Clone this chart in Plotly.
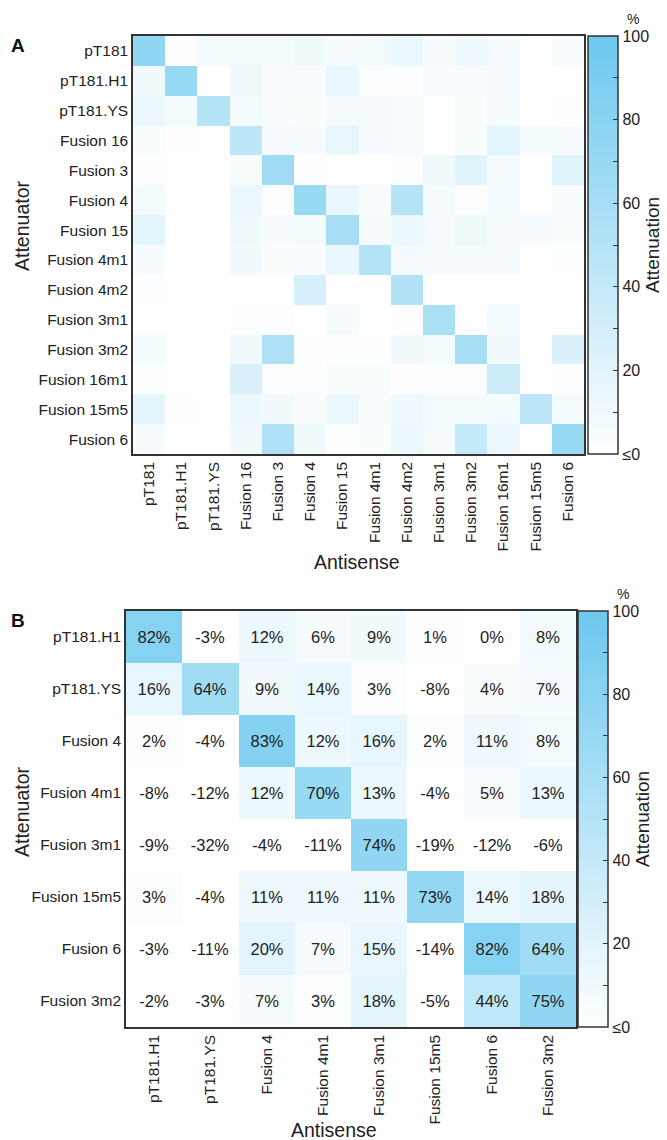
import plotly.graph_objects as go

# ---------------- Data ----------------
labels_a = ["pT181", "pT181.H1", "pT181.YS", "Fusion 16", "Fusion 3", "Fusion 4",
            "Fusion 15", "Fusion 4m1", "Fusion 4m2", "Fusion 3m1", "Fusion 3m2",
            "Fusion 16m1", "Fusion 15m5", "Fusion 6"]

# rows = attenuator, columns = antisense (estimated attenuation %, panel A)
values_a = [
    [75, 1, 8, 8, 8, 10, 6, 8, 14, 6, 11, 7, 0, 5],
    [10, 70, 0, 10, 5, 5, 15, 3, 3, 5, 5, 7, 0, 0],
    [12, 8, 50, 8, 5, 4, 6, 7, 5, 0, 4, 6, 0, 1],
    [4, 1, 0, 45, 6, 6, 15, 7, 5, 0, 4, 20, 8, 7],
    [2, 0, 0, 4, 65, 1, 0, 0, 3, 10, 22, 7, 0, 22],
    [8, 0, 0, 13, 3, 70, 15, 4, 50, 6, 3, 8, 0, 5],
    [20, 0, 0, 10, 7, 8, 60, 6, 12, 7, 10, 7, 7, 4],
    [7, 0, 0, 9, 4, 5, 15, 50, 7, 7, 7, 6, 0, 2],
    [2, 0, 0, 0, 0, 28, 0, 0, 52, 0, 0, 0, 0, 0],
    [0, 0, 0, 3, 3, 0, 6, 0, 1, 58, 0, 8, 0, 0],
    [8, 0, 0, 10, 55, 2, 3, 2, 9, 8, 60, 9, 0, 25],
    [2, 0, 0, 25, 2, 2, 4, 4, 1, 3, 3, 35, 0, 2],
    [18, 1, 0, 13, 9, 5, 12, 5, 11, 8, 8, 8, 45, 8],
    [6, 0, 0, 9, 55, 10, 2, 4, 12, 6, 40, 12, 0, 70],
]

labels_b = ["pT181.H1", "pT181.YS", "Fusion 4", "Fusion 4m1", "Fusion 3m1",
            "Fusion 15m5", "Fusion 6", "Fusion 3m2"]

values_b = [
    [82, -3, 12, 6, 9, 1, 0, 8],
    [16, 64, 9, 14, 3, -8, 4, 7],
    [2, -4, 83, 12, 16, 2, 11, 8],
    [-8, -12, 12, 70, 13, -4, 5, 13],
    [-9, -32, -4, -11, 74, -19, -12, -6],
    [3, -4, 11, 11, 11, 73, 14, 18],
    [-3, -11, 20, 7, 15, -14, 82, 64],
    [-2, -3, 7, 3, 18, -5, 44, 75],
]

cbar_tickvals = [0, 10, 20, 30, 40, 50, 60, 70, 80, 90, 100]
cbar_ticktext = ["≤0", "", "20", "", "40", "", "60", "", "80", "", "100"]

# ---------------- Styling ----------------
W, H = 667, 1140
FONT = "Liberation Sans, Arial, Helvetica, sans-serif"
TXT = "#222222"
colorscale = [[0.0, "#ffffff"], [1.0, "#6cc8ef"]]

def px_x(v):
    return v / W

def px_y(v):
    return 1 - v / H

# panel pixel geometry
A_l, A_r, A_t, A_b = 133, 584, 36, 454
B_l, B_r, B_t, B_b = 126, 576, 611, 1027

fig = go.Figure()

def cbar(left, top, bottom):
    return dict(
        x=px_x(left), xanchor="left",
        y=px_y((top + bottom) / 2), yanchor="middle",
        len=(bottom - top) / H, lenmode="fraction",
        thickness=30, thicknessmode="pixels",
        xpad=0, ypad=0,
        outlinewidth=1.5, outlinecolor="#333333",
        tickvals=cbar_tickvals, ticktext=cbar_ticktext,
        ticks="inside", ticklen=5, tickcolor="#333333", tickwidth=1,
        tickfont=dict(family=FONT, size=16, color=TXT),
        title=dict(text="Attenuation", side="right",
                   font=dict(family=FONT, size=19, color=TXT)),
    )

fig.add_trace(go.Heatmap(
    z=values_a, x=labels_a, y=labels_a,
    zmin=0, zmax=100, colorscale=colorscale,
    xgap=0, ygap=0,
    colorbar=cbar(588, A_t, A_b),
    xaxis="x", yaxis="y",
    hovertemplate="%{y} / %{x}: %{z}%<extra></extra>",
))

text_b = [[f"{v}%" for v in row] for row in values_b]
fig.add_trace(go.Heatmap(
    z=values_b, x=labels_b, y=labels_b,
    zmin=0, zmax=100, colorscale=colorscale,
    text=text_b, texttemplate="%{text}",
    textfont=dict(family=FONT, size=16.5, color=TXT),
    colorbar=cbar(578, B_t, B_b),
    xaxis="x2", yaxis="y2",
    hovertemplate="%{y} / %{x}: %{z}%<extra></extra>",
))

axis_common = dict(
    showgrid=False, zeroline=False, ticks="", showline=True, mirror=True,
    linecolor="#333333", linewidth=1.5, automargin=False,
    tickfont=dict(family=FONT, size=15.5, color=TXT),
)

fig.update_layout(
    width=W, height=H,
    margin=dict(l=0, r=0, t=0, b=0),
    paper_bgcolor="white", plot_bgcolor="white",
    font=dict(family=FONT, color=TXT),
    xaxis=dict(domain=[px_x(A_l), px_x(A_r)], anchor="y", tickangle=-90, **axis_common),
    yaxis=dict(domain=[px_y(A_b), px_y(A_t)], anchor="x", autorange="reversed", **axis_common),
    xaxis2=dict(domain=[px_x(B_l), px_x(B_r)], anchor="y2", tickangle=-90, **axis_common),
    yaxis2=dict(domain=[px_y(B_b), px_y(B_t)], anchor="x2", autorange="reversed", **axis_common),
)

ann = []
def add_text(text, x, y, size, angle=0, bold=False, xanchor="center", yanchor="middle"):
    ann.append(dict(
        text=f"<b>{text}</b>" if bold else text,
        x=px_x(x), y=px_y(y), xref="paper", yref="paper",
        showarrow=False, textangle=angle, xanchor=xanchor, yanchor=yanchor,
        font=dict(family=FONT, size=size, color="#111111" if bold else TXT),
    ))

add_text("A", 18, 45, 19, bold=True)
add_text("B", 18, 620, 19, bold=True)
add_text("Attenuator", 22, 226, 19.5, angle=-90)
add_text("Antisense", 357, 562, 19.5)
add_text("Attenuator", 22, 812, 19.5, angle=-90)
add_text("Antisense", 334, 1130, 19.5)
add_text("%", 633, 19, 14)
add_text("%", 623, 594, 14)
fig.update_layout(annotations=ann)

fig.write_html("out.html",
               config={"displayModeBar": False},
               post_script="document.body.style.margin='0px';document.body.style.padding='0px';")
